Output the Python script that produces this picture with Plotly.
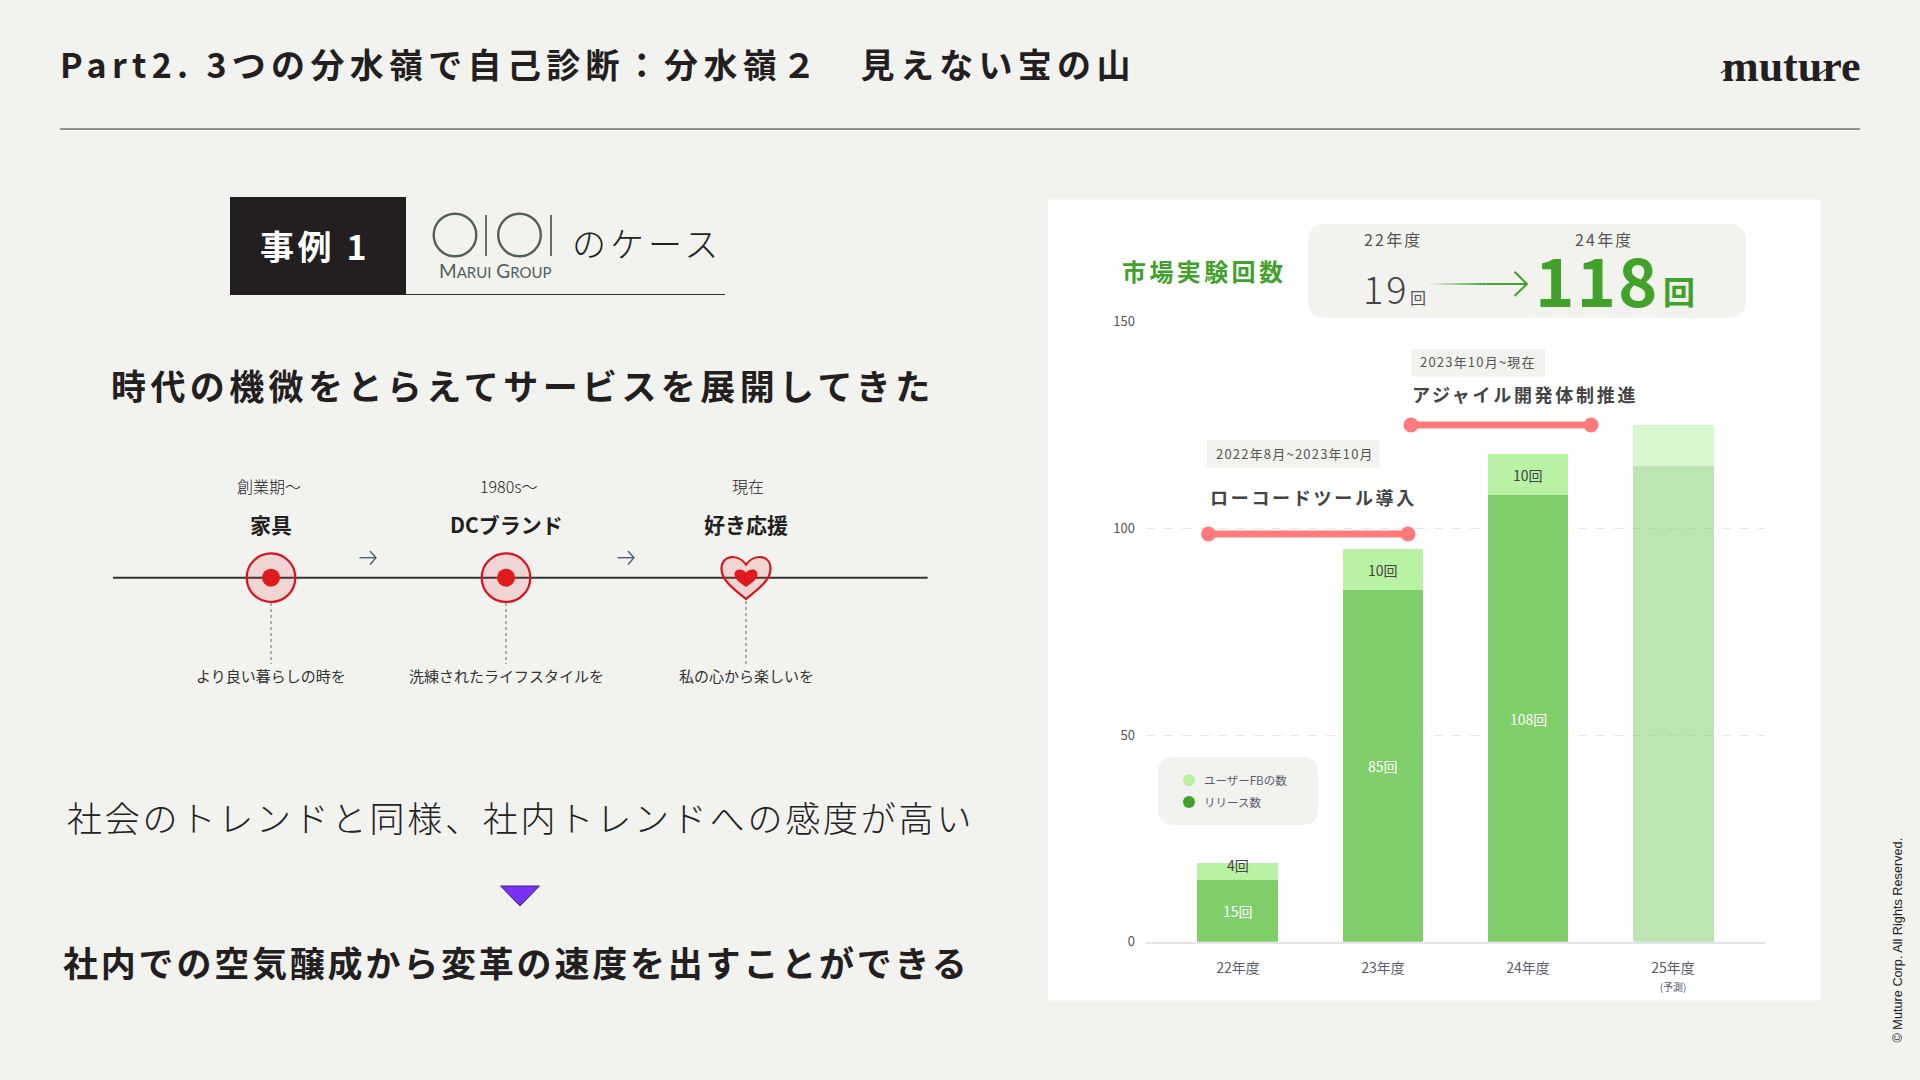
import json
import plotly.graph_objects as go

W, H = 1920, 1080
JP = "Noto Sans CJK JP"

# ---- chart data ----
categories = ["22年度", "23年度", "24年度", "25年度"]
category_ticks = ["22年度", "23年度", "24年度", "25年度<br><span style='font-size:10px'>(予測)</span>"]
release_counts = [15, 85, 108, 115]
feedback_counts = [4, 10, 10, 10]
release_labels = ["15回", "85回", "108回", ""]
feedback_labels = ["4回", "10回", "10回", ""]
bar_opacity = [1, 1, 1, 0.52]
y_ticks = [0, 50, 100, 150]
legend_names = ["ユーザーFBの数", "リリース数"]

# ---- slide texts ----
title_text = "Part2. 3つの分水嶺で自己診断：分水嶺２　見えない宝の山"
headline = "時代の機微をとらえてサービスを展開してきた"
line_a = "社会のトレンドと同様、社内トレンドへの感度が高い"
line_b = "社内での空気醸成から変革の速度を出すことができる"
timeline_periods = ["創業期〜", "1980s〜", "現在"]
timeline_names = ["家具", "DCブランド", "好き応援"]
timeline_notes = ["より良い暮らしの時を", "洗練されたライフスタイルを", "私の心から楽しいを"]

GREEN = "#41a12a"
DARK_BAR = "#7fce6a"
LIGHT_BAR = "#b9f2a4"
BG = "#f2f2ef"
INK = "#231f20"
RED = "#ff7a7c"
CRIM = "#d9141c"


def px(x):
    return x / W


def py(y):
    return 1 - y / H


shapes = []
annotations = []
spacings = {}


def T(text, x, y, size, color=INK, weight=400, anchor="left", spacing=0, family=JP, **kw):
    a = dict(text=text, x=px(x), y=py(y), xref="paper", yref="paper", showarrow=False,
             xanchor=anchor, yanchor="middle", align=anchor,
             font=dict(family=family, size=size, color=color, weight=weight))
    a.update(kw)
    if spacing:
        spacings[len(annotations)] = spacing
    annotations.append(a)


def rect(x0, y0, x1, y1, fill, layer="above"):
    shapes.append(dict(type="rect", xref="paper", yref="paper", x0=px(x0), x1=px(x1), y0=py(y0), y1=py(y1),
                       fillcolor=fill, line=dict(width=0), layer=layer))


def line(x0, y0, x1, y1, color, width=1, dash="solid", layer="above"):
    shapes.append(dict(type="line", xref="paper", yref="paper", x0=px(x0), x1=px(x1), y0=py(y0), y1=py(y1),
                       line=dict(color=color, width=width, dash=dash), layer=layer))


def circle(cx, cy, r, fill, stroke=None, width=0):
    shapes.append(dict(type="circle", xref="paper", yref="paper", x0=px(cx - r), x1=px(cx + r),
                       y0=py(cy - r), y1=py(cy + r), fillcolor=fill,
                       line=dict(color=stroke or fill, width=width)))


def path(pts, fill=None, stroke=None, width=0, layer="above"):
    # pts: list of tuples (cmd, x, y, ...) in page pixels
    out = []
    for p in pts:
        if p[0] == "Z":
            out.append("Z")
            continue
        coords = []
        for i in range(1, len(p), 2):
            coords.append(f"{px(p[i]):.5f},{py(p[i + 1]):.5f}")
        out.append(p[0] + " ".join(coords))
    shapes.append(dict(type="path", xref="paper", yref="paper", path=" ".join(out),
                       fillcolor=fill or "rgba(0,0,0,0)",
                       line=dict(color=stroke or "rgba(0,0,0,0)", width=width), layer=layer))


def rrect(x0, y0, x1, y1, r, fill, layer="above"):
    path([("M", x0 + r, y0), ("L", x1 - r, y0), ("Q", x1, y0, x1, y0 + r), ("L", x1, y1 - r),
          ("Q", x1, y1, x1 - r, y1), ("L", x0 + r, y1), ("Q", x0, y1, x0, y1 - r), ("L", x0, y0 + r),
          ("Q", x0, y0, x0 + r, y0), ("Z",)], fill=fill, layer=layer)


def heart(cx, top, bottom, halfw, fill, stroke=None, width=0):
    h = bottom - top
    path([("M", cx, top + 0.2 * h),
          ("C", cx - 0.3 * halfw, top - 0.05 * h, cx - halfw, top - 0.05 * h, cx - halfw, top + 0.3 * h),
          ("C", cx - halfw, top + 0.6 * h, cx - 0.3 * halfw, top + 0.85 * h, cx, bottom),
          ("C", cx + 0.3 * halfw, top + 0.85 * h, cx + halfw, top + 0.6 * h, cx + halfw, top + 0.3 * h),
          ("C", cx + halfw, top - 0.05 * h, cx + 0.3 * halfw, top - 0.05 * h, cx, top + 0.2 * h),
          ("Z",)], fill=fill, stroke=stroke, width=width)


# ---- header ----
T(title_text, 58, 63, 34, INK, 700, spacing=5.3)
line(60, 129, 1860, 129, "#333333", 1)
T("muture", 1720, 66, 44, INK, 700, family="Liberation Serif")
line(1721, 73, 1735, 63, INK, 1.2)
line(1810, 80, 1830, 67, INK, 1.2)
T("© Muture Corp. All Rights Reserved.", 1897, 940.5, 12.7, "#222222", 400, anchor="center",
  family="Liberation Sans", textangle=-90)

# ---- left: case header ----
rect(230, 197, 406, 295, INK)
line(406, 294.5, 725, 294.5, "#333333", 1.2)
T("事例 1", 258, 246, 34, "#ffffff", 700, spacing=3.6)
LOGO = "#525e5b"
for cx in (455, 519.5):
    circle(cx, 235, 21.3, "rgba(0,0,0,0)", LOGO, 2.4)
for bx in (486, 551):
    line(bx, 215, bx, 256, LOGO, 1.8)
T("M<span style='font-size:15px'>ARUI</span> G<span style='font-size:15px'>ROUP</span>", 437, 270.5, 19, LOGO,
  400, family="Lato")
T("のケース", 570, 243, 34, "#222222", 300, spacing=4)

T(headline, 109, 384, 35, INK, 700, spacing=4.4)

# ---- left: timeline ----
line(113, 577.7, 927.6, 577.7, "#333333", 2)
node_x = [271, 506, 746]
for cx in node_x[:2]:
    circle(cx, 577.7, 24.3, "rgba(226,40,40,0.14)", CRIM, 2.2)
    circle(cx, 577.7, 9, "#e01b1b")
heart(746, 556, 599, 24.5, "rgba(226,40,40,0.14)", CRIM, 2.2)
heart(746, 569, 587, 11.5, "#e01b1b")
for cx, y0 in zip(node_x, (603, 603, 601)):
    line(cx, y0, cx, 664, "#666666", 1, "dot")
for ax in (368, 626):
    path([("M", ax - 8.5, 557.7), ("L", ax + 8, 557.7)], stroke="#4d5f70", width=1.4)
    path([("M", ax + 2, 551), ("L", ax + 8, 557.7), ("L", ax + 2, 564.5)], stroke="#4d5f70", width=1.4)
for cx, t in zip((269, 508, 748), timeline_periods):
    T(t, cx, 485.5, 16, "#222222", 300, anchor="center")
for cx, t in zip(node_x, timeline_names):
    T(t, cx, 523.5, 21, INK, 700, anchor="center")
for cx, t in zip(node_x, timeline_notes):
    T(t, cx, 675.5, 15, "#333333", 400, anchor="center")

# ---- left: conclusion ----
T(line_a, 65, 816.5, 35, "#222222", 300, spacing=2.8)
path([("M", 500.5, 886), ("L", 539.5, 886), ("L", 520, 906), ("Z",)], fill="#7a30f5", stroke="#3a2a70", width=1)
T(line_b, 61, 961, 35, INK, 700, spacing=2.8)

# ---- right: card ----
rect(1048, 199.5, 1820.5, 1000.5, "#ffffff", layer="below")
rrect(1308, 224, 1746, 318, 18, BG)
T("市場実験回数", 1120, 270.5, 24, GREEN, 700, spacing=3.4)
T("22年度", 1362, 239, 16, "#555555", 400, spacing=2.2)
T("24年度", 1573, 239, 16, "#555555", 400, spacing=2.2)
T("19", 1361, 288, 38, "#444444", 300, spacing=3)
T("回", 1408, 297, 16, "#555555", 400)
T("118", 1533, 277, 67, GREEN, 700, spacing=2)
T("回", 1661, 290, 32, GREEN, 700)
n_seg = 24
for i in range(n_seg):
    x0 = 1430 + (1527 - 1430) * i / n_seg
    x1 = 1430 + (1527 - 1430) * (i + 1) / n_seg
    alpha = min(1.0, (i + 1) / (n_seg * 0.6))
    line(x0, 284, x1, 284, f"rgba(65,161,42,{alpha:.3f})", 2)
path([("M", 1514.5, 271.7), ("L", 1527, 284), ("L", 1514.5, 296)], stroke=GREEN, width=2)

# program annotations
rect(1411.5, 349, 1545, 376.5, BG)
T("2023年10月~現在", 1418, 361.5, 13, "#555555", 400, spacing=1.2)
T("アジャイル開発体制推進", 1410, 394, 18, "#444444", 700, spacing=2.7)
line(1411, 425, 1591, 425, RED, 7)
circle(1411, 425, 7.5, RED)
circle(1591, 425, 7.5, RED)
rect(1207, 440, 1379.5, 467.5, BG)
T("2022年8月~2023年10月", 1214, 453, 13, "#555555", 400, spacing=1.2)
T("ローコードツール導入", 1208, 497, 18, "#444444", 700, spacing=2.7)
line(1208.5, 534, 1408, 534, RED, 7)
circle(1208.5, 534, 7.5, RED)
circle(1408, 534, 7.5, RED)

# legend
rrect(1158, 757, 1318, 825, 16, BG)
for cy, col, name in zip((780.3, 802), (LIGHT_BAR, GREEN), legend_names):
    circle(1189, cy, 6, col)
    T(name, 1201.5, cy, 11.5, "#5a5a6e", 400)

# bar value labels through the data axes
for i, cat in enumerate(categories):
    if release_labels[i]:
        annotations.append(dict(text=release_labels[i], x=cat, y=release_counts[i] / 2, xref="x", yref="y",
                                showarrow=False, font=dict(family=JP, size=14, color="#ffffff")))
    if feedback_labels[i]:
        annotations.append(dict(text=feedback_labels[i], x=cat, y=release_counts[i] + feedback_counts[i] / 2,
                                xref="x", yref="y", showarrow=False, yshift=6 if feedback_counts[i] < 5 else 0,
                                font=dict(family=JP, size=14, color="#444444")))

fig = go.Figure()
fig.add_bar(x=categories, y=release_counts, width=0.558, hoverinfo="skip",
            marker=dict(color=DARK_BAR, opacity=bar_opacity, line=dict(width=0)))
fig.add_bar(x=categories, y=feedback_counts, width=0.558, hoverinfo="skip",
            marker=dict(color=LIGHT_BAR, opacity=bar_opacity, line=dict(width=0)))

fig.update_layout(
    width=W, height=H, autosize=False, margin=dict(l=0, r=0, t=0, b=0, pad=0, autoexpand=False),
    paper_bgcolor=BG, plot_bgcolor="rgba(0,0,0,0)", barmode="stack", showlegend=False,
    font=dict(family=JP),
    shapes=shapes, annotations=annotations,
    xaxis=dict(domain=[px(1146), px(1765)], type="category", categoryorder="array", categoryarray=categories,
               range=[-0.634, 3.634], tickmode="array", tickvals=categories, ticktext=category_ticks,
               tickangle=0, ticks="", showgrid=False, showline=True, linecolor="#e3e3e8", linewidth=2,
               zeroline=False, fixedrange=True, ticklabelstandoff=12, automargin=False,
               tickfont=dict(family=JP, size=14, color="#5a5a6e")),
    yaxis=dict(domain=[py(941.7), py(321.7)], range=[0, 150], tickmode="array", tickvals=y_ticks, ticks="",
               showgrid=True, gridcolor="#e6e6e6", griddash="dash", gridwidth=1, zeroline=False, showline=False,
               fixedrange=True, ticklabelstandoff=10, automargin=False,
               tickfont=dict(family=JP, size=13, color="#555555")),
)

post = """
document.body.style.margin='0';document.documentElement.style.overflow='hidden';
var sp=%s;var gd=document.getElementById('{plot_id}');
Object.keys(sp).forEach(function(k){
  var el=gd.querySelector('.annotation[data-index="'+k+'"] text');
  if(el){el.style.letterSpacing=sp[k]+'px';}
});
""" % json.dumps(spacings)

fig.write_html("out.html", config={"displayModeBar": False, "responsive": False}, post_script=post)
